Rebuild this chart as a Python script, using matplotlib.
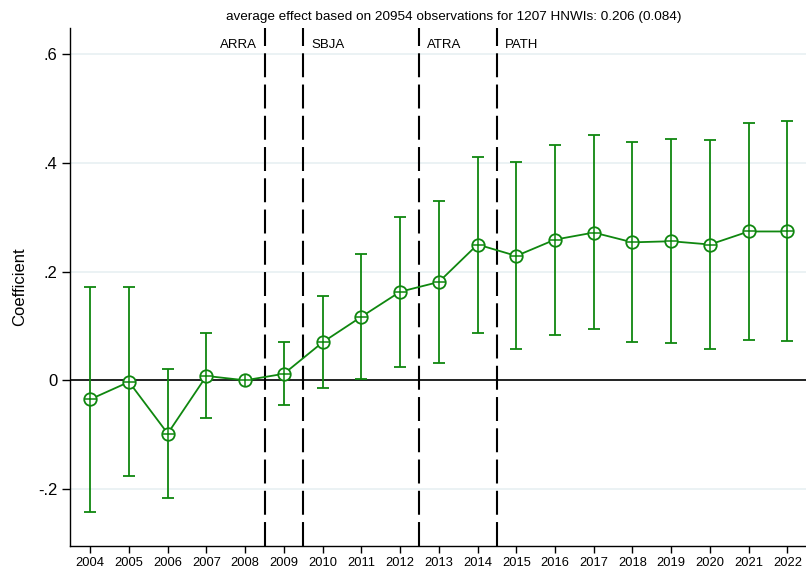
import numpy as np
import matplotlib
matplotlib.use("Agg")
import matplotlib.pyplot as plt

years = list(range(2004, 2023))
coef = [-0.035, -0.003, -0.098, 0.008, 0.0, 0.012, 0.070, 0.117, 0.163, 0.181,
        0.250, 0.229, 0.259, 0.272, 0.254, 0.256, 0.250, 0.274, 0.274]
ci_hi = [0.172, 0.171, 0.020, 0.087, np.nan, 0.070, 0.155, 0.233, 0.301, 0.331,
         0.411, 0.401, 0.434, 0.451, 0.438, 0.444, 0.442, 0.474, 0.477]
ci_lo = [-0.242, -0.176, -0.217, -0.070, np.nan, -0.046, -0.015, 0.002, 0.024, 0.032,
         0.087, 0.058, 0.083, 0.094, 0.071, 0.069, 0.057, 0.075, 0.072]

events = ["ARRA", "SBJA", "ATRA", "PATH"]
event_x = [2008.5, 2009.5, 2012.5, 2014.5]
event_ha = ["right", "left", "left", "left"]

yticks = [-0.2, 0, 0.2, 0.4, 0.6]
ytick_labels = ["-.2", "0", ".2", ".4", ".6"]

title = "average effect based on 20954 observations for 1207 HNWIs: 0.206 (0.084)"

GREEN = "#0f870f"
plt.rcParams["font.family"] = ["Liberation Sans", "DejaVu Sans"]

fig = plt.figure(figsize=(8.06, 5.72), dpi=100)
ax = fig.add_axes([0.087, 0.0455, 0.913, 0.905])

coef = np.array(coef)
hi = np.array(ci_hi)
lo = np.array(ci_lo)
ax.errorbar(years, coef, yerr=[coef - lo, hi - coef], fmt="none",
            ecolor=GREEN, elinewidth=1.3, capsize=4.5, capthick=1.3, zorder=3)
ax.plot(years, coef, color=GREEN, lw=1.3, marker="o", ms=9, mfc="white",
        mec=GREEN, mew=1.3, zorder=4)
ax.plot(years, coef, ls="none", marker="+", ms=9, mec=GREEN, mew=1.1, zorder=5)

ax.axhline(0, color="black", lw=1.2, zorder=2)
for x, lab, ha in zip(event_x, events, event_ha):
    ax.axvline(x, color="black", lw=1.5, ls=(0, (11.5, 3.5)), zorder=2)
    off = -0.2 if ha == "right" else 0.2
    ax.text(x + off, 0.617, lab, ha=ha, va="center", fontsize=9.5)

ax.set_xlim(2003.48, 2022.48)
ax.set_ylim(-0.305, 0.648)
ax.set_xticks(years)
ax.set_xticklabels([str(y) for y in years], fontsize=9.3)
ax.set_yticks(yticks)
ax.set_yticklabels(ytick_labels, fontsize=12)
ax.yaxis.grid(True, color="#e8f0f2", lw=1.2)
ax.set_axisbelow(True)
ax.tick_params(axis="both", direction="out", length=5, width=1, pad=3)
ax.tick_params(axis="y", length=6)
ax.set_ylabel("Coefficient", fontsize=12, labelpad=8)
for s in ["top", "right"]:
    ax.spines[s].set_visible(False)
ax.spines["left"].set_linewidth(1)
ax.spines["bottom"].set_linewidth(1)

fig.text(0.563, 0.971, title, ha="center", va="center", fontsize=9.7)

fig.savefig("out.png", dpi=100)
